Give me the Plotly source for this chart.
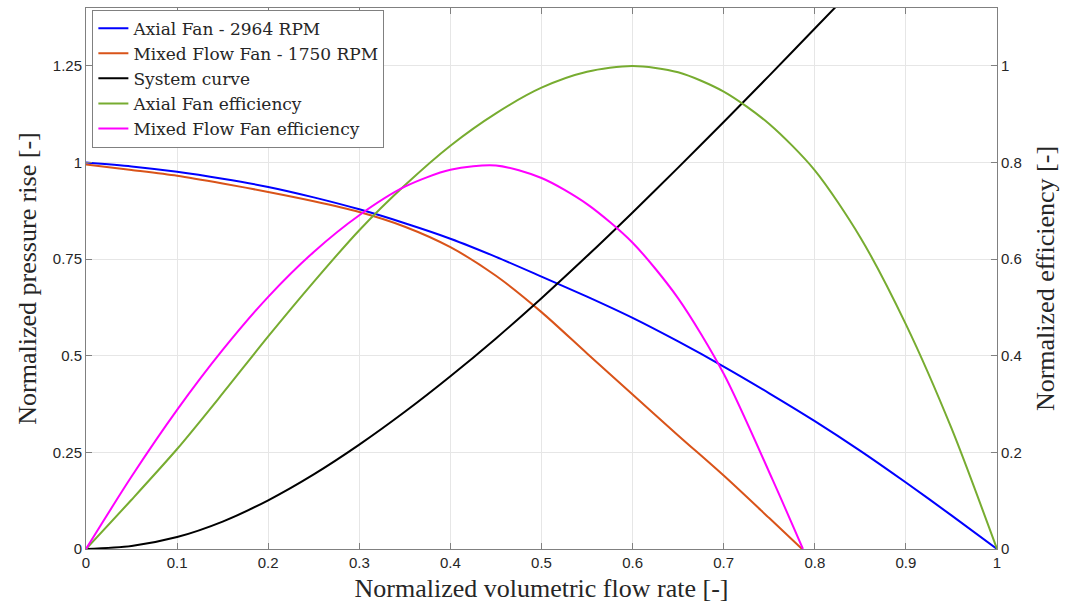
import plotly.graph_objects as go

# Normalized volumetric flow rate (x) and series values
axial_x = [0, 0.05, 0.1, 0.15, 0.2, 0.25, 0.3, 0.35, 0.4, 0.45, 0.5, 0.55, 0.6, 0.65, 0.7, 0.75, 0.8, 0.85, 0.9, 0.95, 1.0]
axial_p = [1.0, 0.99, 0.976, 0.958, 0.937, 0.91, 0.879, 0.843, 0.803, 0.756, 0.705, 0.653, 0.598, 0.537, 0.472, 0.403, 0.331, 0.254, 0.172, 0.087, 0.0]

mixed_x = [0, 0.05, 0.1, 0.15, 0.2, 0.25, 0.3, 0.35, 0.4, 0.45, 0.5, 0.55, 0.6, 0.65, 0.7, 0.75, 0.786]
mixed_p = [0.995, 0.981, 0.966, 0.946, 0.924, 0.9, 0.872, 0.834, 0.781, 0.707, 0.613, 0.506, 0.4, 0.294, 0.19, 0.08, 0.0]

system_x = [0, 0.05, 0.1, 0.15, 0.2, 0.25, 0.3, 0.35, 0.4, 0.45, 0.5, 0.55, 0.6, 0.65, 0.7, 0.75, 0.8, 0.83]
system_p = [0.0, 0.008, 0.031, 0.071, 0.126, 0.193, 0.27, 0.355, 0.447, 0.545, 0.649, 0.758, 0.871, 0.987, 1.105, 1.225, 1.347, 1.42]

axial_eff_x = [0, 0.05, 0.1, 0.15, 0.2, 0.25, 0.3, 0.35, 0.4, 0.45, 0.5, 0.55, 0.6, 0.65, 0.7, 0.75, 0.8, 0.85, 0.9, 0.95, 1.0]
axial_eff = [0.0, 0.102, 0.207, 0.322, 0.44, 0.553, 0.66, 0.753, 0.835, 0.902, 0.955, 0.988, 1.0, 0.987, 0.947, 0.88, 0.784, 0.645, 0.465, 0.25, 0.0]

mixed_eff_x = [0, 0.05, 0.1, 0.15, 0.2, 0.25, 0.3, 0.35, 0.4, 0.45, 0.5, 0.55, 0.6, 0.65, 0.7, 0.754, 0.787]
mixed_eff = [0.0, 0.15, 0.288, 0.412, 0.522, 0.615, 0.691, 0.75, 0.785, 0.794, 0.768, 0.714, 0.634, 0.519, 0.363, 0.142, 0.0]

left_ticks = [0, 0.25, 0.5, 0.75, 1.0, 1.25]
left_ticktext = ["0", "0.25", "0.5", "0.75", "1", "1.25"]
right_ticks = [0, 0.2, 0.4, 0.6, 0.8, 1.0]
right_ticktext = ["0", "0.2", "0.4", "0.6", "0.8", "1"]
x_ticks = [0, 0.1, 0.2, 0.3, 0.4, 0.5, 0.6, 0.7, 0.8, 0.9, 1.0]
x_ticktext = ["0", "0.1", "0.2", "0.3", "0.4", "0.5", "0.6", "0.7", "0.8", "0.9", "1"]

SERIF = "Liberation Serif"
LEG_SERIF = "DejaVu Serif"
SANS = "Liberation Sans, Arial"
TXT = "#262626"
AX = "#808080"
GRID = "#e6e6e6"

fig = go.Figure()
line_shape = dict(width=2, shape="spline", smoothing=0.8)
fig.add_trace(go.Scatter(x=axial_x, y=axial_p, mode="lines", name="Axial Fan - 2964 RPM",
                         line=dict(color="#0000ff", **line_shape)))
fig.add_trace(go.Scatter(x=mixed_x, y=mixed_p, mode="lines", name="Mixed Flow Fan - 1750 RPM",
                         line=dict(color="#d95319", **line_shape)))
fig.add_trace(go.Scatter(x=system_x, y=system_p, mode="lines", name="System curve",
                         line=dict(color="#000000", **line_shape)))
fig.add_trace(go.Scatter(x=axial_eff_x, y=axial_eff, mode="lines", name="Axial Fan efficiency", yaxis="y2",
                         line=dict(color="#77ac30", **line_shape)))
fig.add_trace(go.Scatter(x=mixed_eff_x, y=mixed_eff, mode="lines", name="Mixed Flow Fan efficiency", yaxis="y2",
                         line=dict(color="#ff00ff", **line_shape)))

fig.update_layout(
    width=1066, height=608,
    margin=dict(l=86, r=69, t=8, b=59),
    paper_bgcolor="white", plot_bgcolor="white",
    showlegend=True,
    legend=dict(x=0.007, y=0.997, xanchor="left", yanchor="top",
                bgcolor="white", bordercolor=AX, borderwidth=1,
                font=dict(family=LEG_SERIF, size=17, color=TXT),
                tracegroupgap=0, itemwidth=30),
    xaxis=dict(range=[0, 1], tickvals=x_ticks, ticktext=x_ticktext,
               ticks="inside", ticklen=6, tickcolor=AX, showline=True, linecolor=AX, linewidth=1,
               mirror="ticks", showgrid=True, gridcolor=GRID, zeroline=False,
               tickfont=dict(family=SANS, size=15, color=TXT),
               title=dict(text="Normalized volumetric flow rate [-]", standoff=8,
                          font=dict(family=SERIF, size=26, color=TXT))),
    yaxis=dict(range=[0, 1.4], tickvals=left_ticks, ticktext=left_ticktext,
               ticks="inside", ticklen=6, tickcolor=AX, showline=True, linecolor=AX, linewidth=1,
               showgrid=True, gridcolor=GRID, zeroline=False,
               tickfont=dict(family=SANS, size=15, color=TXT),
               title=dict(text="Normalized pressure rise [-]", standoff=8,
                          font=dict(family=SERIF, size=26, color=TXT))),
    yaxis2=dict(range=[0, 1.12], tickvals=right_ticks, ticktext=right_ticktext, overlaying="y", side="right",
                ticks="inside", ticklen=6, tickcolor=AX, showline=True, linecolor=AX, linewidth=1,
                showgrid=False, zeroline=False,
                tickfont=dict(family=SANS, size=15, color=TXT),
                title=dict(text="Normalized efficiency [-]", standoff=14,
                           font=dict(family=SERIF, size=26, color=TXT))),
)

fig.write_html("out.html")
